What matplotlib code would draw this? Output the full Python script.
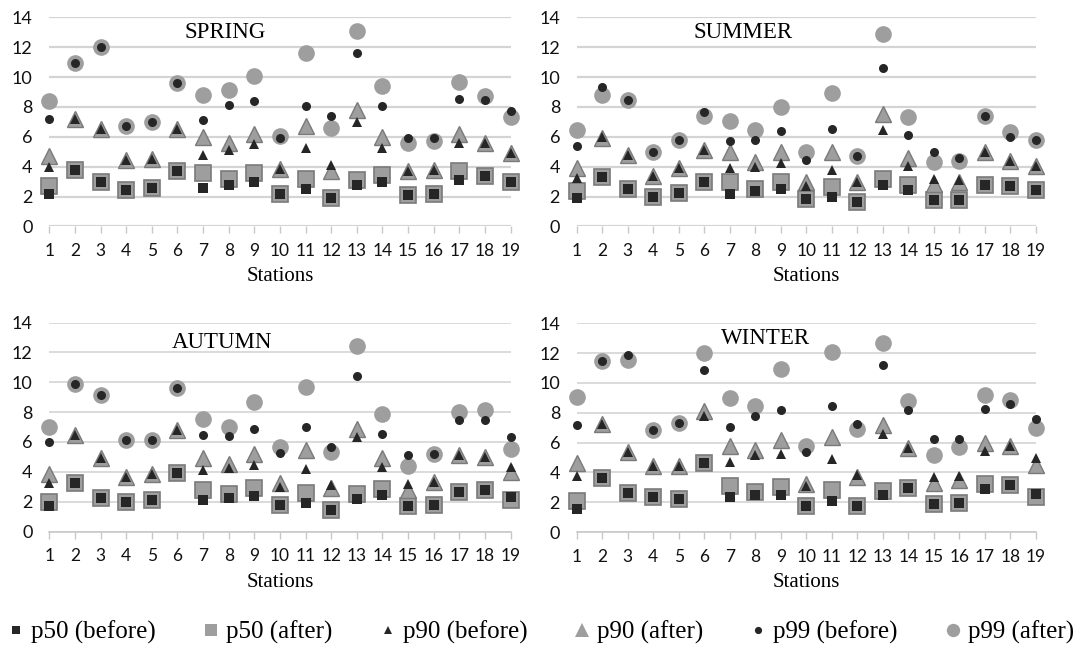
import matplotlib
matplotlib.use("Agg")
import matplotlib.pyplot as plt
from matplotlib.lines import Line2D

stations = list(range(1, 20))

# SPRING
spring_p50_before = [2.2, 3.8, 3.0, 2.45, 2.6, 3.7, 2.6, 2.8, 3.0, 2.15, 2.5, 1.9, 2.75, 3.0, 2.1, 2.2, 3.1, 3.4, 2.95]
spring_p50_after = [2.7, 3.8, 3.0, 2.45, 2.6, 3.7, 3.55, 3.2, 3.55, 2.15, 3.2, 1.9, 3.1, 3.45, 2.1, 2.2, 3.7, 3.4, 2.95]
spring_p90_before = [4.0, 7.2, 6.5, 4.45, 4.5, 6.5, 4.8, 5.1, 5.5, 3.85, 5.25, 4.1, 7.0, 5.25, 3.7, 3.8, 5.6, 5.6, 4.9]
spring_p90_after = [4.7, 7.2, 6.5, 4.45, 4.5, 6.5, 6.0, 5.6, 6.2, 3.85, 6.75, 3.7, 7.8, 6.0, 3.7, 3.8, 6.2, 5.6, 4.9]
spring_p99_before = [7.2, 10.95, 12.0, 6.75, 6.97, 9.6, 7.1, 8.1, 8.4, 5.9, 8.05, 7.4, 11.6, 8.05, 5.9, 5.95, 8.5, 8.45, 7.75]
spring_p99_after = [8.4, 10.95, 12.0, 6.75, 6.97, 9.6, 8.8, 9.1, 10.1, 6.07, 11.6, 6.6, 13.1, 9.4, 5.6, 5.75, 9.7, 8.7, 7.35]

# SUMMER
summer_p50_before = [1.9, 3.3, 2.5, 2.0, 2.27, 3.0, 2.2, 2.4, 2.5, 1.85, 2.0, 1.65, 2.8, 2.45, 1.75, 1.75, 2.8, 2.7, 2.45]
summer_p50_after = [2.35, 3.3, 2.5, 2.0, 2.27, 3.0, 3.0, 2.5, 3.0, 1.85, 2.67, 1.65, 3.2, 2.8, 1.75, 1.75, 2.8, 2.7, 2.45]
summer_p90_before = [3.25, 6.0, 4.8, 3.35, 3.9, 5.15, 3.9, 4.0, 4.25, 2.7, 3.75, 3.0, 6.45, 4.05, 3.2, 3.1, 4.95, 4.35, 4.05]
summer_p90_after = [3.9, 5.9, 4.8, 3.35, 3.9, 5.15, 4.95, 4.3, 5.0, 3.0, 4.95, 3.0, 7.5, 4.6, 2.85, 2.97, 4.95, 4.35, 4.05]
summer_p99_before = [5.4, 9.3, 8.45, 5.0, 5.8, 7.65, 5.75, 5.8, 6.4, 4.45, 6.5, 4.7, 10.6, 6.1, 5.0, 4.57, 7.4, 6.0, 5.8]
summer_p99_after = [6.43, 8.8, 8.45, 5.0, 5.8, 7.4, 7.03, 6.47, 7.97, 4.95, 8.95, 4.7, 12.87, 7.3, 4.3, 4.35, 7.4, 6.35, 5.8]

# AUTUMN
autumn_p50_before = [1.7, 3.25, 2.27, 2.0, 2.13, 3.9, 2.1, 2.27, 2.4, 1.8, 1.93, 1.42, 2.2, 2.42, 1.7, 1.78, 2.65, 2.8, 2.3]
autumn_p50_after = [2.0, 3.25, 2.27, 2.0, 2.13, 3.9, 2.76, 2.5, 2.9, 1.8, 2.6, 1.42, 2.5, 2.83, 1.7, 1.78, 2.65, 2.8, 2.13]
autumn_p90_before = [3.25, 6.45, 4.9, 3.65, 3.83, 6.8, 4.15, 4.28, 4.45, 3.0, 4.2, 3.1, 6.35, 4.33, 3.2, 3.3, 5.1, 5.0, 4.33]
autumn_p90_after = [3.83, 6.45, 4.9, 3.65, 3.83, 6.8, 4.95, 4.55, 5.22, 3.25, 5.45, 2.9, 6.9, 4.95, 2.8, 3.3, 5.1, 5.0, 4.0]
autumn_p99_before = [6.0, 9.87, 9.13, 6.1, 6.1, 9.6, 6.45, 6.4, 6.9, 5.27, 6.97, 5.67, 10.43, 6.56, 5.1, 5.22, 7.5, 7.5, 6.35]
autumn_p99_after = [6.97, 9.87, 9.13, 6.1, 6.1, 9.6, 7.57, 6.97, 8.7, 5.67, 9.65, 5.3, 12.45, 7.86, 4.4, 5.22, 8.0, 8.13, 5.55]

# WINTER
winter_p50_before = [1.58, 3.6, 2.6, 2.33, 2.25, 4.65, 2.35, 2.5, 2.5, 1.73, 2.1, 1.73, 2.5, 2.95, 1.9, 1.95, 2.9, 3.14, 2.58]
winter_p50_after = [2.07, 3.6, 2.6, 2.33, 2.25, 4.65, 3.07, 2.67, 3.0, 1.73, 2.85, 1.73, 2.74, 2.95, 1.9, 1.95, 3.25, 3.14, 2.33]
winter_p90_before = [3.75, 7.25, 5.4, 4.45, 4.45, 7.75, 4.7, 5.2, 5.25, 3.1, 4.9, 3.85, 6.58, 5.65, 3.7, 3.75, 5.46, 5.75, 4.97]
winter_p90_after = [4.6, 7.25, 5.4, 4.45, 4.45, 8.1, 5.8, 5.5, 6.15, 3.2, 6.35, 3.7, 7.2, 5.65, 3.3, 3.52, 6.0, 5.75, 4.48]
winter_p99_before = [7.2, 11.45, 11.85, 6.87, 7.3, 10.85, 7.05, 7.75, 8.2, 5.4, 8.43, 7.27, 11.17, 8.2, 6.26, 6.24, 8.25, 8.58, 7.55]
winter_p99_after = [9.05, 11.45, 11.5, 6.87, 7.3, 12.0, 9.0, 8.47, 10.9, 5.8, 12.1, 6.93, 12.7, 8.76, 5.2, 5.7, 9.2, 8.87, 7.0]

seasons = ["SPRING", "SUMMER", "AUTUMN", "WINTER"]
series_labels = ["p50 (before)", "p50 (after)", "p90 (before)", "p90 (after)", "p99 (before)", "p99 (after)"]
y_ticks = [0, 2, 4, 6, 8, 10, 12, 14]

data = {
    "SPRING": [spring_p50_before, spring_p50_after, spring_p90_before, spring_p90_after, spring_p99_before, spring_p99_after],
    "SUMMER": [summer_p50_before, summer_p50_after, summer_p90_before, summer_p90_after, summer_p99_before, summer_p99_after],
    "AUTUMN": [autumn_p50_before, autumn_p50_after, autumn_p90_before, autumn_p90_after, autumn_p99_before, autumn_p99_after],
    "WINTER": [winter_p50_before, winter_p50_after, winter_p90_before, winter_p90_after, winter_p99_before, winter_p99_after],
}

DARK = "#262626"
GRAY = "#9e9e9e"
GRAY_EDGE = "#7a7a7a"
styles = [
    dict(marker="s", ms=7.0, mfc=DARK, mec=DARK, mew=0.0),
    dict(marker="s", ms=11.0, mfc=GRAY, mec=GRAY_EDGE, mew=1.2),
    dict(marker="^", ms=6.5, mfc=DARK, mec=DARK, mew=0.0),
    dict(marker="^", ms=12.0, mfc=GRAY, mec=GRAY_EDGE, mew=1.0),
    dict(marker="o", ms=6.5, mfc=DARK, mec=DARK, mew=0.0),
    dict(marker="o", ms=12.0, mfc=GRAY, mec=GRAY, mew=0.0),
]
draw_order = [1, 3, 5, 0, 2, 4]

fig = plt.figure(figsize=(10.83, 6.47), dpi=100)

positions = {
    "SPRING": [0.0455, 0.650, 0.426, 0.3233],
    "SUMMER": [0.5325, 0.650, 0.4241, 0.3233],
    "AUTUMN": [0.0455, 0.1785, 0.426, 0.323],
    "WINTER": [0.5325, 0.1775, 0.4241, 0.323],
}
title_pos = {
    "SPRING": (225, 33),
    "SUMMER": (743, 33),
    "AUTUMN": (222, 342),
    "WINTER": (766, 339),
}

for s in seasons:
    ax = fig.add_axes(positions[s])
    vals = data[s]
    for z, i in enumerate(draw_order):
        st = styles[i]
        ax.plot(stations, vals[i], linestyle="none", marker=st["marker"],
                markersize=st["ms"], markerfacecolor=st["mfc"],
                markeredgecolor=st["mec"], markeredgewidth=st["mew"],
                clip_on=False, zorder=3 + z, label=series_labels[i])
    ax.set_xlim(1, 19)
    ax.set_ylim(0, 14)
    ax.set_yticks(y_ticks)
    ax.set_xticks(stations)
    ax.set_xticklabels([str(v) for v in stations], fontsize=12.5, family="Lato")
    ax.set_yticklabels([str(v) for v in y_ticks], fontsize=13, family="Lato")
    ax.grid(axis="y", color="#d4d4d4", linewidth=1.6 if s in ("SPRING", "SUMMER") else 1.2)
    ax.set_axisbelow(True)
    for sp in ["top", "right", "left"]:
        ax.spines[sp].set_visible(False)
    top_row = s in ("SPRING", "SUMMER")
    if top_row:
        ax.spines["bottom"].set_visible(False)
    else:
        ax.spines["bottom"].set_color("#c8c8c8")
        ax.spines["bottom"].set_linewidth(1.2)
    ax.tick_params(axis="y", length=0, pad=12, colors="#111111")
    ax.tick_params(axis="x", length=5, width=1.0, color="#c8c8c8", pad=7, labelcolor="#111111")
    ax.set_xlabel("Stations", family="Liberation Serif", fontsize=15, labelpad=6)
    tx, ty = title_pos[s]
    fig.text(tx / 1083, 1 - ty / 647, s, family="Liberation Serif", fontsize=16.5,
             ha="center", va="center")

leg_handles = []
for i in range(6):
    st = styles[i]
    scale = 0.8
    leg_handles.append(Line2D([], [], linestyle="none", marker=st["marker"],
                              markersize=st["ms"] * scale, markerfacecolor=st["mfc"],
                              markeredgecolor=st["mfc"], markeredgewidth=0))
fig.legend(leg_handles, series_labels, loc="center", bbox_to_anchor=(0.5, 1 - 632 / 647),
           ncol=6, frameon=False, prop={"family": "Liberation Serif", "size": 18},
           handlelength=0.6, handletextpad=0.3, columnspacing=1.9)

fig.savefig("out.png", dpi=100)
